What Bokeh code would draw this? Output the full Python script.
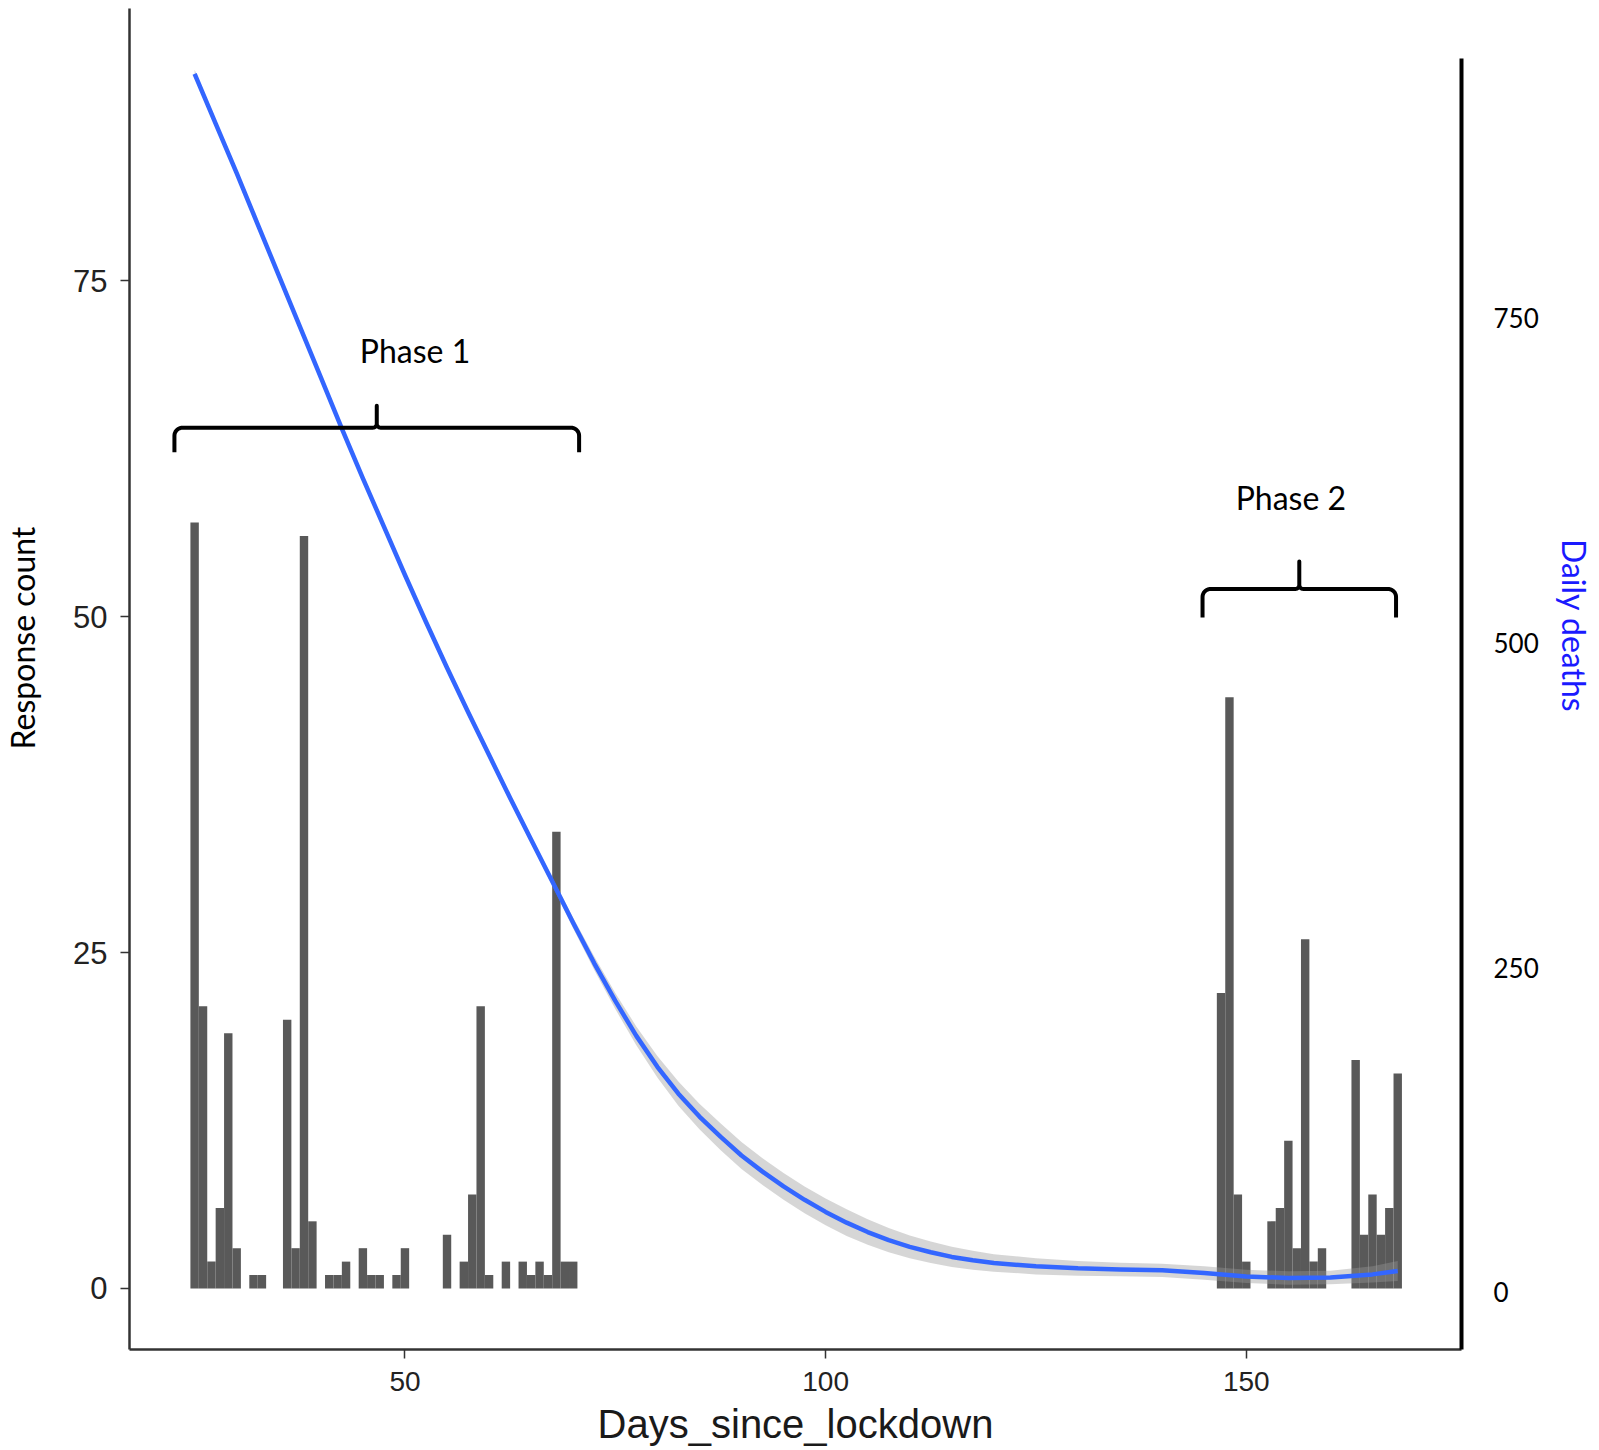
import numpy as np
from bokeh.plotting import figure
from bokeh.models import Range1d, LinearAxis, FixedTicker, Label, ColumnDataSource
from bokeh.embed import file_html
from bokeh.resources import INLINE

# ---------------- data ----------------
days = list(range(25, 71)) + list(range(147, 169))
counts = [57, 21, 2, 6, 19, 3, 0, 1, 1, 0,
          0, 20, 3, 56, 5, 0, 1, 1, 2, 0,
          3, 1, 1, 0, 1, 3, 0, 0, 0, 0,
          4, 0, 2, 7, 21, 1, 0, 2, 0, 2,
          1, 2, 1, 34, 2, 2,
          22, 44, 7, 2, 0, 0, 5, 6, 11, 3,
          26, 2, 3, 0, 0, 0, 17, 4, 7, 4,
          6, 16]

smooth_days = [25, 27.5, 30, 32.5, 35, 37.5, 40, 42.5, 45, 47.5, 50, 52.5, 55, 57.5,
               60, 62.5, 65, 67.5, 70, 72.5, 75, 77.5, 80, 82.5, 85, 87.5, 90, 92.5,
               95, 97.5, 100, 102.5, 105, 107.5, 110, 112.5, 115, 117.5, 120, 125,
               130, 135, 140, 145, 150, 155, 160, 165, 168]
deaths_fit = [904, 867, 830, 792, 754, 716, 678, 640, 603, 567, 531, 496, 462, 429,
              397, 365, 334, 303, 272, 242, 214, 188, 165, 145, 128, 113, 99, 87,
              76, 66, 57, 49, 42, 36, 31, 27, 23.5, 21, 19, 16.5,
              15, 14.2, 13.5, 11.5, 9, 7.8, 8.2, 10.5, 13]
deaths_se = [3, 3, 3, 3, 3, 3, 3, 3, 3, 3, 3, 3, 3, 3,
             3, 3, 3, 3, 4, 5, 6, 7, 8, 9, 9.5, 10, 10, 10,
             10, 10, 10, 10, 9.5, 9, 8.5, 8, 7.5, 7, 6.5, 6,
             5.5, 5, 5, 5, 5, 5, 5, 6, 7.5]

x_ticks = [50, 100, 150]
count_ticks = [0, 25, 50, 75]
death_ticks = [0, 250, 500, 750]

phase_names = ["Phase 1", "Phase 2"]
phase_start = [22.6, 144.8]
phase_end = [70.7, 167.8]
brace_level = [64.06, 52.06]
label_x = [51.2, 155.3]
label_y = [69.83, 58.9]

NBSP = "\u00a0"

# ---------------- figure ----------------
FW, FH = 1332, 1341
x0, x1 = 17.26, 175.58
y0, y1 = -4.54, 95.26

p = figure(frame_width=FW, frame_height=FH,
           x_range=Range1d(x0, x1), y_range=Range1d(y0, y1),
           output_backend="svg", toolbar_location=None,
           min_border_left=129, min_border_right=135,
           min_border_top=8, min_border_bottom=100)
p.extra_y_ranges = {"deaths": Range1d(y0 * 10, y1 * 10),
                    "deaths_axis": Range1d(-43.9, 988.5)}
p.xgrid.visible = False
p.ygrid.visible = False
p.outline_line_color = None
p.background_fill_color = "white"
p.border_fill_color = "white"

# bars
src = ColumnDataSource(dict(day=days, count=counts))
p.vbar(x="day", top="count", bottom=0, width=1.0, source=src,
       fill_color="#595959", line_color=None)

# smooth ribbon + line
lo = [f - s for f, s in zip(deaths_fit, deaths_se)]
hi = [f + s for f, s in zip(deaths_fit, deaths_se)]
p.varea(x=smooth_days, y1=lo, y2=hi, y_range_name="deaths",
        fill_color="#999999", fill_alpha=0.4)
p.line(smooth_days, deaths_fit, y_range_name="deaths",
       line_color="#3366FF", line_width=4.5, line_join="round")

# braces
sx = FW / (x1 - x0)
sy = FH / (y1 - y0)


def brace_path(xa, xb, yl, drop_px, tip_px, r=8.0, w=4.0):
    xm = 0.5 * (xa + xb)
    pts = [(0.0, -drop_px)]
    for t in np.linspace(np.pi, np.pi / 2, 10):
        pts.append((r + r * np.cos(t), -r + r * np.sin(t)))
    L = (xm - xa) * sx
    for t in np.linspace(-np.pi / 2, 0, 8):
        pts.append((L - w + w * np.cos(t), w + w * np.sin(t)))
    pts.append((L, tip_px))
    for t in np.linspace(np.pi, 3 * np.pi / 2, 8):
        pts.append((L + w + w * np.cos(t), w + w * np.sin(t)))
    W = (xb - xa) * sx
    for t in np.linspace(np.pi / 2, 0, 10):
        pts.append((W - r + r * np.cos(t), -r + r * np.sin(t)))
    pts.append((W, -drop_px))
    xs = [xa + px / sx for px, py in pts]
    ys = [yl + py / sy for px, py in pts]
    return xs, ys


drops = [24.5, 28.5]
tips = [22.0, 27.5]
for i in range(2):
    bx, by = brace_path(phase_start[i], phase_end[i], brace_level[i], drops[i], tips[i])
    p.line(bx, by, line_color="black", line_width=4, line_join="round")
    p.add_layout(Label(x=label_x[i], y=label_y[i], text=phase_names[i],
                       text_align="center", text_baseline="middle",
                       text_font="Lato", text_font_size="32px", text_color="black"))

# left axis
ya = p.yaxis[0]
ya.ticker = FixedTicker(ticks=count_ticks)
ya.major_label_text_font = "Liberation Sans"
ya.major_label_text_font_size = "31px"
ya.major_label_text_color = "#222222"
ya.major_tick_out = 9
ya.major_tick_in = 0
ya.minor_tick_out = 0
ya.minor_tick_in = 0
ya.major_tick_line_width = 1.5
ya.major_tick_line_color = "#333333"
ya.axis_line_width = 2.5
ya.axis_line_color = "#333333"
ya.major_label_standoff = 13
ya.axis_label = NBSP * 10 + "Response count"
ya.axis_label_text_font = "Lato"
ya.axis_label_text_font_size = "32px"
ya.axis_label_text_font_style = "normal"
ya.axis_label_text_line_height = 1.0
ya.axis_label_text_color = "black"
ya.axis_label_standoff = 28

# bottom axis
xa = p.xaxis[0]
xa.ticker = FixedTicker(ticks=x_ticks)
xa.major_label_text_font = "Liberation Sans"
xa.major_label_text_font_size = "28px"
xa.major_label_text_color = "#222222"
xa.major_tick_out = 9
xa.major_tick_in = 0
xa.minor_tick_out = 0
xa.minor_tick_in = 0
xa.major_tick_line_width = 1.5
xa.major_tick_line_color = "#333333"
xa.axis_line_width = 2.5
xa.axis_line_color = "#333333"
xa.major_label_standoff = 13
xa.axis_label = "Days_since_lockdown"
xa.axis_label_text_font = "Liberation Sans"
xa.axis_label_text_font_size = "40px"
xa.axis_label_text_font_style = "normal"
xa.axis_label_text_color = "#1a1a1a"
xa.axis_label_standoff = 8

# right axis (daily deaths)
ra = LinearAxis(y_range_name="deaths_axis", bounds=(-43.9, 950))
ra.ticker = FixedTicker(ticks=death_ticks)
ra.major_label_text_font = "Lato"
ra.major_label_text_font_size = "26px"
ra.major_label_text_color = "black"
ra.major_tick_out = 0
ra.major_tick_in = 0
ra.minor_tick_out = 0
ra.minor_tick_in = 0
ra.axis_line_width = 4
ra.axis_line_color = "black"
ra.major_label_standoff = 32
ra.axis_label = "Daily deaths" + NBSP * 13
ra.axis_label_text_font = "Lato"
ra.axis_label_text_font_size = "32px"
ra.axis_label_text_font_style = "normal"
ra.axis_label_text_color = "#1a1aff"
ra.axis_label_standoff = 13
p.add_layout(ra, "right")

open("out.html", "w").write(file_html(p, INLINE))
